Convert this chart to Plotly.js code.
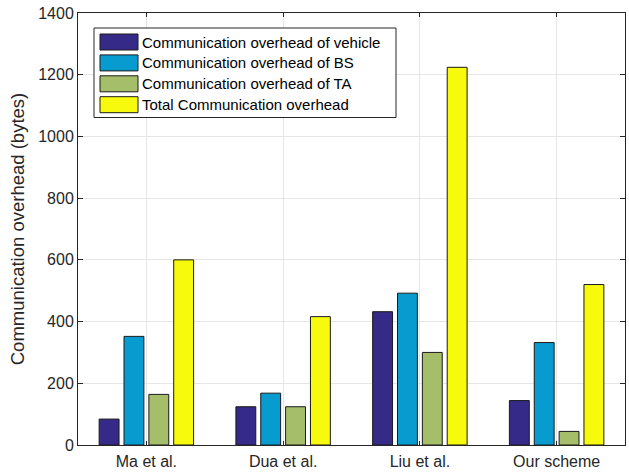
<!DOCTYPE html>
<html>
<head>
<meta charset="utf-8">
<script src="https://cdn.plot.ly/plotly-3.0.1.min.js"></script>
<style>
  html, body { margin: 0; padding: 0; background: #fff; }
  #chart { width: 629px; height: 473px; }
</style>
</head>
<body>
<div id="chart"></div>
<script>
// Schemes compared on the x axis
const schemes = ['Ma et al.', 'Dua et al.', 'Liu et al.', 'Our scheme'];

// Communication overhead in bytes for each party
const vehicleBytes = [84, 124, 432, 144];
const bsBytes      = [352, 168, 492, 332];
const taBytes      = [164, 124, 300, 44];
const totalBytes   = [600, 416, 1224, 520];

const seriesNames = [
  'Communication overhead of vehicle',
  'Communication overhead of BS',
  'Communication overhead of TA',
  'Total Communication overhead'
];
const seriesColors = ['#352a87', '#079bcf', '#a5be6a', '#f8fa0e'];
const seriesValues = [vehicleBytes, bsBytes, taBytes, totalBytes];

const FONT = 'Liberation Sans, Arial, Helvetica, sans-serif';
const AXIS_COLOR = '#262626';

const traces = seriesValues.map((vals, i) => ({
  type: 'bar',
  name: seriesNames[i],
  x: schemes,
  y: vals,
  marker: { color: seriesColors[i], line: { color: '#1a1a1a', width: 1 } },
  showlegend: false,
  hoverinfo: 'x+y+name'
}));

// Plot area in pixels (used to place the boxed legend in paper units)
const W = 629, H = 473;
const M = { l: 78, r: 4, t: 13, b: 28 };
const plotW = W - M.l - M.r, plotH = H - M.t - M.b;
const px = x => (x - M.l) / plotW;
const py = y => (H - M.b - y) / plotH;

const shapes = [];
const annotations = [];

// Legend frame
shapes.push({
  type: 'rect', xref: 'paper', yref: 'paper',
  x0: px(94), x1: px(396), y0: py(117.5), y1: py(28),
  line: { color: AXIS_COLOR, width: 1 }, fillcolor: '#ffffff', layer: 'above'
});
// Legend swatches and labels
seriesNames.forEach((name, i) => {
  const top = 34 + i * 20.9;
  shapes.push({
    type: 'rect', xref: 'paper', yref: 'paper',
    x0: px(100), x1: px(138), y0: py(top + 16), y1: py(top),
    line: { color: '#1a1a1a', width: 1 }, fillcolor: seriesColors[i], layer: 'above'
  });
  annotations.push({
    xref: 'paper', yref: 'paper', x: px(140), y: py(top + 8),
    xanchor: 'left', yanchor: 'middle', showarrow: false,
    text: name, font: { family: FONT, size: 15, color: '#000' }
  });
});

const layout = {
  width: W, height: H,
  margin: M,
  paper_bgcolor: '#ffffff',
  plot_bgcolor: '#ffffff',
  font: { family: FONT, color: AXIS_COLOR },
  barmode: 'group',
  bargap: 0.273,
  bargroupgap: 0.2,
  showlegend: false,
  xaxis: {
    type: 'category',
    range: [-0.5, 3.5],
    showline: true, linecolor: AXIS_COLOR, linewidth: 1, mirror: 'ticks',
    ticks: 'inside', ticklen: 4, tickcolor: AXIS_COLOR,
    showgrid: true, gridcolor: '#e6e6e6', gridwidth: 1,
    tickfont: { family: FONT, size: 16, color: AXIS_COLOR },
    ticklabelstandoff: 2,
    zeroline: false
  },
  yaxis: {
    range: [0, 1400], dtick: 200, tick0: 0,
    showline: true, linecolor: AXIS_COLOR, linewidth: 1, mirror: 'ticks',
    ticks: 'inside', ticklen: 5, tickcolor: AXIS_COLOR,
    showgrid: true, gridcolor: '#e6e6e6', gridwidth: 1,
    tickfont: { family: FONT, size: 16, color: AXIS_COLOR },
    zeroline: false,
    title: { text: 'Communication overhead (bytes)', font: { family: FONT, size: 18.5, color: AXIS_COLOR }, standoff: 8 }
  },
  shapes: shapes,
  annotations: annotations
};

Plotly.newPlot('chart', traces, layout, { displayModeBar: false, staticPlot: true });
</script>
</body>
</html>
